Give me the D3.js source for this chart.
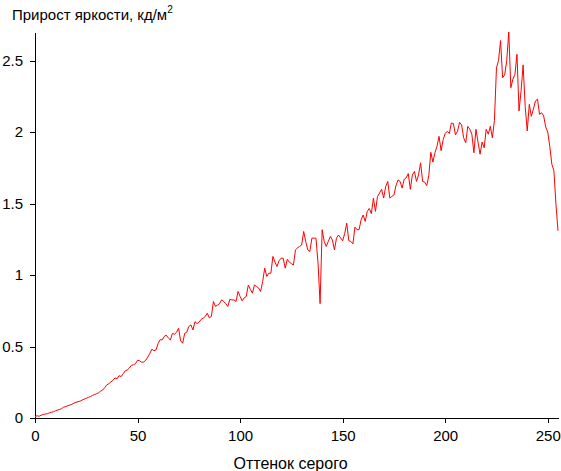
<!DOCTYPE html>
<html><head><meta charset="utf-8">
<script src="https://cdn.jsdelivr.net/npm/d3@7"></script>
<style>body{margin:0;background:#fff}svg{display:block}text{font-family:"Liberation Sans",Arial,sans-serif;}</style>
</head><body><svg id="c" width="561" height="471"></svg>
<script>
const title = "Прирост яркости, кд/м";
const xLabel = "Оттенок серого";
const xTicks = [0, 50, 100, 150, 200, 250];
const yTicks = [0, 0.5, 1, 1.5, 2, 2.5];
const yTickLabels = ["0", "0.5", "1", "1.5", "2", "2.5"];
const values = [
0.010,0.016,0.012,0.020,0.024,0.028,0.030,0.036,0.040,0.044,
0.050,0.056,0.060,0.066,0.076,0.080,0.086,0.090,0.096,0.104,
0.110,0.114,0.118,0.126,0.132,0.138,0.144,0.150,0.158,0.164,
0.170,0.176,0.188,0.196,0.212,0.232,0.240,0.252,0.264,0.280,
0.274,0.296,0.290,0.310,0.330,0.336,0.350,0.368,0.372,0.380,
0.404,0.400,0.390,0.392,0.404,0.426,0.452,0.482,0.470,0.476,
0.520,0.548,0.546,0.570,0.580,0.560,0.546,0.592,0.586,0.600,
0.628,0.540,0.523,0.593,0.600,0.640,0.651,0.616,0.674,0.660,
0.670,0.690,0.698,0.710,0.733,0.700,0.710,0.815,0.780,0.790,
0.800,0.826,0.815,0.800,0.780,0.830,0.826,0.826,0.815,0.885,
0.850,0.820,0.840,0.850,0.930,0.900,0.873,0.930,0.920,0.910,
0.885,0.955,1.048,0.990,1.013,1.013,1.130,1.090,1.060,1.100,
1.118,1.118,1.048,1.110,1.090,1.080,1.070,1.176,1.190,1.200,
1.210,1.305,1.235,1.176,1.165,1.258,1.258,1.258,1.083,0.800,
1.317,1.235,1.200,1.235,1.270,1.245,1.176,1.258,1.280,1.260,
1.240,1.290,1.363,1.240,1.235,1.218,1.335,1.317,1.317,1.386,
1.420,1.375,1.445,1.466,1.430,1.538,1.445,1.550,1.574,1.600,
1.538,1.620,1.655,1.538,1.550,1.560,1.625,1.665,1.655,1.608,
1.670,1.680,1.710,1.600,1.700,1.725,1.655,1.700,1.785,1.655,
1.650,1.625,1.695,1.858,1.790,1.855,1.900,1.970,1.870,1.947,
1.990,2.005,1.990,2.063,2.060,1.980,2.005,2.068,2.050,1.960,
1.925,2.040,2.020,1.985,1.855,2.020,1.930,1.845,1.930,1.890,
2.020,1.985,2.040,1.960,2.080,2.450,2.500,2.640,2.380,2.400,
2.500,2.700,2.310,2.370,2.404,2.544,2.148,2.290,2.470,2.180,
2.008,2.194,2.110,2.160,2.218,2.230,2.124,2.135,2.113,2.036,
2.000,1.900,1.775,1.730,1.495,1.310
];

const svg = d3.select("#c");
const mLeft = 35, mRight = 558, mTop = 32, mBottom = 418;
const x = d3.scaleLinear().domain([0, 255]).range([mLeft, mRight]);
const y = d3.scaleLinear().domain([0, 2.7]).range([mBottom, mTop]);

const xAxis = d3.axisBottom(x).tickValues(xTicks).tickSize(5).tickSizeOuter(0).tickPadding(7);
const yAxis = d3.axisLeft(y).tickValues(yTicks).tickFormat((d,i)=>yTickLabels[i]).tickSize(5).tickSizeOuter(0).tickPadding(7);

const gx = svg.append("g").attr("transform", `translate(0,${mBottom})`).call(xAxis);
const gy = svg.append("g").attr("transform", `translate(${mLeft},0)`).call(yAxis);
[gx, gy].forEach(g => {
  g.selectAll("path").attr("stroke", "#000").attr("shape-rendering", "crispEdges");
  g.selectAll("line").attr("stroke", "#000").attr("shape-rendering", "crispEdges");
  g.selectAll("text").attr("font-size", 15).attr("fill", "#000").attr("font-family", '"Liberation Sans",Arial,sans-serif');
});

const line = d3.line().x((d,i)=>x(i)).y(d=>y(d));
svg.append("path").datum(values).attr("d", line)
  .attr("fill", "none").attr("stroke", "#ff0000").attr("stroke-width", 1);

const t = svg.append("text").attr("x", 12).attr("y", 20).attr("font-size", 15).attr("fill", "#000").text(title);
t.append("tspan").attr("font-size", 10).attr("dy", -7).text("2");

svg.append("text").attr("x", (mLeft+mRight)/2 - 6).attr("y", 469).attr("text-anchor", "middle")
  .attr("font-size", 16).attr("fill", "#000").text(xLabel);
</script></body></html>
